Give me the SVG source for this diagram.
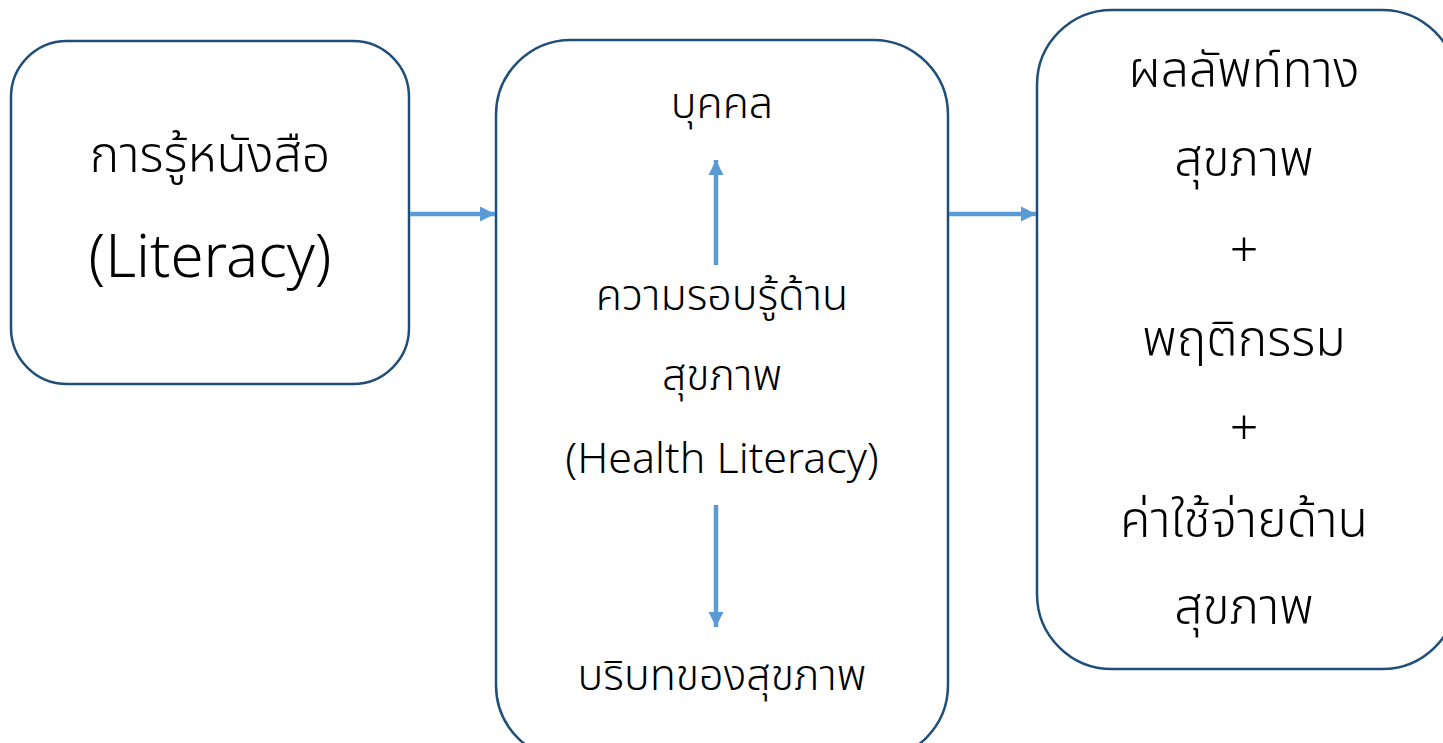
<svg xmlns="http://www.w3.org/2000/svg" width="1443" height="743" viewBox="0 0 1443 743">
  <style>
    .box { fill: #ffffff; stroke: #1f4e79; stroke-width: 2.5; }
    .lbl { font-family: "Noto Sans Thai", "Noto Sans", "DejaVu Sans", sans-serif; font-weight: 300; fill: #000000; text-anchor: middle; }
    .big { font-size: 50px; }
    .mid { font-size: 43px; }
    .conn { stroke: #5b9bd5; stroke-width: 4.5; fill: none; marker-end: url(#head); }
  </style>
  <defs>
    <marker id="head" viewBox="0 0 10 10" refX="10" refY="5" markerWidth="3.4" markerHeight="3.7" markerUnits="strokeWidth" orient="auto">
      <path d="M0,0 L10,5 L0,10 Z" fill="#5b9bd5"/>
    </marker>
  </defs>
  <rect width="1443" height="743" fill="#ffffff"/>

  <g id="node-literacy">
    <rect class="box" x="11" y="41" width="398" height="343" rx="56" ry="56"/>
    <text class="lbl big" x="210" y="172">การรู้หนังสือ</text>
    <text class="lbl" x="210" y="277" font-size="60">(Literacy)</text>
  </g>

  <g id="node-health-literacy">
    <rect class="box" x="496" y="40" width="452" height="720" rx="75" ry="75"/>
    <text class="lbl mid" x="722" y="118">บุคคล</text>
    <text class="lbl mid" x="722" y="310">ความรอบรู้ด้าน</text>
    <text class="lbl mid" x="722" y="390">สุขภาพ</text>
    <text class="lbl" x="722" y="473" font-size="43">(Health Literacy)</text>
    <text class="lbl mid" x="722" y="690">บริบทของสุขภาพ</text>
  </g>

  <g id="node-outcomes">
    <rect class="box" x="1037" y="10" width="420" height="659" rx="75" ry="75"/>
    <text class="lbl big" x="1244" y="87">ผลลัพท์ทาง</text>
    <text class="lbl big" x="1244" y="176">สุขภาพ</text>
    <text class="lbl big" x="1244" y="267">+</text>
    <text class="lbl big" x="1244" y="356">พฤติกรรม</text>
    <text class="lbl big" x="1244" y="445">+</text>
    <text class="lbl big" x="1244" y="537">ค่าใช้จ่ายด้าน</text>
    <text class="lbl big" x="1244" y="624">สุขภาพ</text>
  </g>

  <g id="connectors">
    <line class="conn" x1="410" y1="214" x2="495" y2="214"/>
    <line class="conn" x1="949" y1="214" x2="1036" y2="214"/>
    <line class="conn" x1="716" y1="265" x2="716" y2="160"/>
    <line class="conn" x1="716" y1="505" x2="716" y2="627"/>
  </g>
</svg>
